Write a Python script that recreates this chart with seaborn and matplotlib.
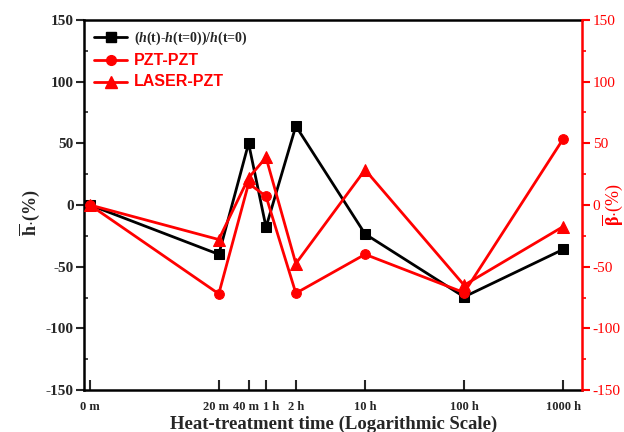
import numpy as np
import pandas as pd
import matplotlib
matplotlib.use("Agg")
import matplotlib.pyplot as plt
import matplotlib.transforms as mtransforms
import seaborn as sns
from matplotlib.lines import Line2D
from matplotlib.ticker import MultipleLocator, FixedLocator, NullLocator

# ---- data ----
time_hours = [1/60, 1/3, 2/3, 1, 2, 10, 100, 1000]   # 0 m drawn at 1 minute
tick_labels = ["0 m", "20 m", "40 m", "1 h", "2 h", "10 h", "100 h", "1000 h"]
h_change = [0, -40, 50, -18, 64, -23.5, -74.5, -36]
pzt_pzt = [0, -72, 17.5, 7, -71.5, -40, -71, 53.5]
laser_pzt = [0, -28, 22, 38.5, -47.5, 28.5, -65, -17.5]
series_names = ["(h(t)-h(t=0))/h(t=0)", "PZT-PZT", "LASER-PZT"]

sns.set_style("ticks")
plt.rcParams["font.family"] = ["Liberation Serif", "DejaVu Serif"]
plt.rcParams["font.weight"] = "bold"
plt.rcParams["axes.unicode_minus"] = False
plt.rcParams["mathtext.fontset"] = "custom"
plt.rcParams["mathtext.it"] = "Liberation Serif:italic:bold"
plt.rcParams["mathtext.rm"] = "Liberation Serif:bold"
plt.rcParams["mathtext.bf"] = "Liberation Serif:bold"

fig = plt.figure(figsize=(6.24, 4.32), dpi=100)
ax = fig.add_axes([0.135, 0.097, 0.933 - 0.135, 0.954 - 0.097])
ax2 = ax.twinx()

df = pd.DataFrame({"t": time_hours, "h": h_change, "pzt": pzt_pzt, "laser": laser_pzt})

lw = 2.0
sns.lineplot(data=df, x="t", y="h", ax=ax, color="black", marker="s", markersize=6.5,
             markeredgecolor="black", linewidth=lw, errorbar=None, sort=False)
sns.lineplot(data=df, x="t", y="pzt", ax=ax2, color="red", marker="o", markersize=7,
             markeredgecolor="red", linewidth=lw, errorbar=None, sort=False)
sns.lineplot(data=df, x="t", y="laser", ax=ax2, color="red", marker="^", markersize=8,
             markeredgecolor="red", linewidth=lw, errorbar=None, sort=False)

for a in (ax, ax2):
    a.set_xscale("log")
    a.set_xlim(0.0146, 1557)
    a.set_ylim(-150, 150)
    a.yaxis.set_major_locator(MultipleLocator(50))
    a.yaxis.set_minor_locator(MultipleLocator(25))

ax.xaxis.set_major_locator(FixedLocator(time_hours))
ax.xaxis.set_minor_locator(NullLocator())
ax.set_xticklabels(tick_labels, fontsize=9, fontweight="bold")
ax.tick_params(axis="x", which="major", direction="in", length=7, width=1.5, pad=8)
# small horizontal nudges of crowded labels (pixels)
nudges = [0, -3, -3, 5, 0, 0, 0, 0]
for lbl, dx in zip(ax.get_xticklabels(), nudges):
    if dx:
        lbl.set_transform(lbl.get_transform() +
                          mtransforms.ScaledTranslation(dx / 100, 0, fig.dpi_scale_trans))

ax.tick_params(axis="y", which="major", direction="out", length=5.5, width=1.5, pad=2,
               labelsize=11)
ax.tick_params(axis="y", which="minor", direction="in", length=3, width=1.2)
for lbl in ax.get_yticklabels():
    lbl.set_fontweight("bold")

ax2.tick_params(axis="y", which="major", direction="out", length=5.5, width=1.5, pad=2,
                labelsize=11, colors="red")
ax2.tick_params(axis="y", which="minor", direction="out", length=3, width=1.2, colors="red")
for lbl in ax2.get_yticklabels():
    lbl.set_fontweight("normal")

for s in ["left", "bottom", "top"]:
    ax.spines[s].set_linewidth(1.8)
    ax.spines[s].set_color("black")
for s in ["left", "bottom", "top"]:
    ax2.spines[s].set_visible(False)
ax2.spines["right"].set_color("red")
ax2.spines["right"].set_linewidth(1.8)
ax.spines["right"].set_visible(False)

ax.set_xlabel("Heat-treatment time (Logarithmic Scale)", fontsize=13.5, fontweight="bold",
              labelpad=2)
ax.set_ylabel(r"$\overline{\mathrm{h}}$$\cdot$(%)", fontsize=13, fontweight="bold",
              ha="center", va="center")
ax.yaxis.set_label_coords(-0.109, 0.478)
ax2.set_ylabel(r"$\overline{\mathrm{\beta}}$$\cdot$(%)", fontsize=13, color="red", rotation=90,
               ha="center", va="center")
ax2.yaxis.set_label_coords(1.062, 0.5)

handles = [
    Line2D([], [], color="black", marker="s", markersize=6.5, linewidth=lw),
    Line2D([], [], color="red", marker="o", markersize=7, linewidth=lw),
    Line2D([], [], color="red", marker="^", markersize=8, linewidth=lw),
]
labels = [r"($\mathit{h}$(t)-$\mathit{h}$(t=0))/$\mathit{h}$(t=0)", series_names[1], series_names[2]]
leg = ax2.legend(handles, labels, loc="upper left", frameon=False, handlelength=2.4,
                 handletextpad=0.5, labelspacing=0.45, borderaxespad=0.3,
                 bbox_to_anchor=(0.0, 1.0))
texts = leg.get_texts()
texts[0].set_fontsize(10)
texts[0].set_fontweight("bold")
for t in texts[1:]:
    t.set_color("red")
    t.set_fontsize(11.5)
    t.set_fontweight("bold")
    t.set_fontfamily(["Liberation Sans", "DejaVu Sans"])

fig.savefig("out.png", dpi=100)
